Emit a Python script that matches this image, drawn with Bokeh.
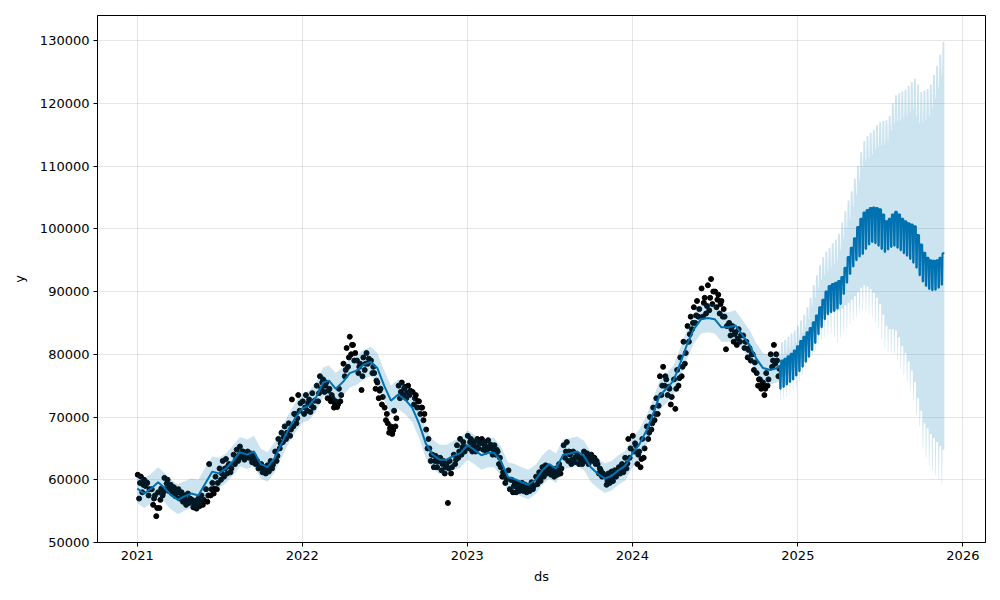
import pandas as pd
from bokeh.plotting import figure
from bokeh.models import FixedTicker, DatetimeTickFormatter, BasicTickFormatter, Range1d
from bokeh.embed import file_html
from bokeh.resources import INLINE

# ---------------- tick labels ----------------
x_tick_years = [2021, 2022, 2023, 2024, 2025, 2026]
y_ticks = [50000, 60000, 70000, 80000, 90000, 100000, 110000, 120000, 130000]

# ---------------- fitted history (thousands) ----------------
# sampled on the 1st and 16th of each month 2021-01 .. 2024-11, last value at 2024-11-22
yhat_hist_k = [
    58.6, 57.8, 58.6, 59.6, 58.8, 57.6, 56.8, 57.4, 57.8, 57.5, 59.5, 61.3,
    61.0, 61.8, 63.0, 64.4, 64.0, 64.5, 62.5, 62.0, 63.5, 65.8, 68.0, 69.8,
    71.4, 71.8, 73.2, 75.5, 75.8, 74.5, 75.6, 77.0, 77.4, 78.3, 78.8, 77.8,
    75.0, 72.6, 73.6, 72.8, 71.5, 69.0, 65.8, 64.0, 63.2, 63.2, 63.8, 64.2,
    65.5, 64.8, 63.9, 64.3, 64.3, 63.0, 60.4, 60.1, 59.6, 59.2, 60.0, 61.5,
    62.5, 61.8, 64.0, 64.2, 64.5, 63.8, 62.0, 61.0, 60.2, 60.6, 61.5, 62.2,
    64.2, 65.6, 67.8, 70.5, 73.4, 74.5, 75.8, 78.6, 81.6, 84.0, 85.6, 85.8,
    85.6, 84.3, 84.3, 84.6, 83.0, 81.5, 79.3, 77.8, 77.5, 77.8, 78.2,
]
yhat_hist_upper_k = [
    61.0, 60.3, 61.0, 62.0, 61.2, 60.0, 59.3, 59.8, 60.2, 60.0, 62.0, 63.7,
    63.5, 64.2, 65.5, 66.8, 66.4, 67.0, 65.0, 64.4, 66.0, 68.2, 70.4, 72.2,
    73.8, 74.2, 75.6, 77.9, 78.2, 77.0, 78.0, 79.4, 79.8, 80.7, 81.2, 80.2,
    77.4, 75.0, 76.0, 75.2, 74.0, 71.4, 68.2, 66.4, 65.6, 65.6, 66.2, 66.6,
    67.9, 67.2, 66.3, 66.7, 66.7, 65.4, 62.8, 62.5, 62.0, 61.6, 62.4, 63.9,
    64.9, 64.2, 66.4, 66.6, 66.9, 66.2, 64.4, 63.4, 62.6, 63.0, 63.9, 64.6,
    66.6, 68.0, 70.2, 72.9, 75.8, 76.9, 78.2, 81.0, 84.0, 86.4, 88.0, 88.2,
    88.0, 86.7, 86.7, 87.0, 85.4, 83.9, 81.7, 80.2, 79.9, 80.2, 80.6,
]
yhat_hist_lower_k = [
    56.3, 55.5, 56.3, 57.3, 56.5, 55.3, 54.5, 55.1, 55.5, 55.2, 57.2, 59.0,
    58.7, 59.5, 60.7, 62.1, 61.7, 62.2, 60.2, 59.7, 61.2, 63.5, 65.7, 67.5,
    69.1, 69.5, 70.9, 73.2, 73.5, 72.2, 73.3, 74.7, 75.1, 76.0, 76.5, 75.5,
    72.7, 70.3, 71.3, 70.5, 69.2, 66.7, 63.5, 61.7, 60.9, 60.9, 61.5, 61.9,
    63.2, 62.5, 61.6, 62.0, 62.0, 60.7, 58.1, 57.8, 57.3, 56.9, 57.7, 59.2,
    60.2, 59.5, 61.7, 61.9, 62.2, 61.5, 59.7, 58.7, 57.9, 58.3, 59.2, 59.9,
    61.9, 63.3, 65.5, 68.2, 71.1, 72.2, 73.5, 76.3, 79.3, 81.7, 83.3, 83.5,
    83.3, 82.0, 82.0, 82.3, 80.7, 79.2, 77.0, 75.5, 75.2, 75.5, 75.9,
]

# ---------------- observations (thousands) ----------------
# obs_hi on days 2, 9, 16, 23; obs_lo on days 5, 12, 19, 26; obs_mid on days 7, 14, 21, 28
obs_hi_k = [
    60.8, 60.5, 60.0, 59.5,  58.5, 57.5, 58.0, 58.6,  60.3, 60.0, 59.2, 58.8,
    58.5, 58.0, 57.5, 57.8,  56.8, 56.6, 57.0, 57.5,  58.5, 62.5, 59.5, 60.5,
    61.8, 63.0, 63.3, 62.5,  64.0, 64.8, 65.3, 64.5,  64.5, 64.2, 63.8, 63.0,
    62.5, 62.0, 62.3, 63.0,  64.5, 66.5, 67.5, 68.5,  69.0, 72.8, 70.5, 73.5,
    72.5, 73.5, 72.8, 73.8,  75.0, 76.5, 76.0, 75.5,  74.5, 73.0, 72.5, 74.5,
    78.5, 81.0, 82.8, 81.5,  79.0, 78.5, 79.5, 80.2,  79.0, 77.0, 75.5, 74.5,
    71.5, 69.0, 68.5, 71.0,  75.0, 75.5, 74.8, 75.0,  74.0, 73.5, 72.5, 71.5,
    68.0, 65.0, 64.0, 63.8,  63.5, 63.0, 62.5, 63.0,  64.0, 65.5, 66.5, 66.0,
    67.0, 66.5, 66.0, 66.5,  66.5, 66.0, 66.3, 65.5,  65.5, 64.5, 62.0, 61.0,
    61.5, 60.0, 59.5, 59.5,  59.5, 59.2, 59.0, 59.6,  60.5, 61.2, 62.0, 62.3,
    62.0, 61.5, 61.8, 62.5,  65.5, 66.0, 64.0, 64.5,  64.0, 63.5, 64.5, 64.2,
    64.0, 63.5, 62.5, 61.5,  60.5, 61.0, 61.3, 61.5,  62.0, 62.5, 63.5, 66.5,
    67.0, 65.5, 64.5, 66.5,  68.5, 70.0, 71.5, 73.0,  76.5, 78.0, 76.0, 74.5,
    76.0, 77.5, 79.5, 82.0,  84.5, 86.0, 87.5, 88.5,  90.5, 89.0, 91.0, 92.0,
    90.0, 89.5, 88.5, 86.0,  85.0, 84.5, 83.5, 84.0,  83.0, 82.0, 81.0, 80.0,
    77.0, 76.0, 75.5, 77.0,  80.0, 81.5, 79.0,
]
obs_lo_k = [
    57.0, 58.0, 59.0, 57.5,  56.0, 54.2, 55.5, 57.5,  58.5, 58.2, 57.8, 57.4,
    57.0, 56.5, 56.0, 56.3,  55.6, 55.4, 55.8, 56.0,  56.5, 57.5, 57.8, 58.5,
    60.0, 60.5, 61.0, 61.2,  62.5, 63.0, 63.6, 63.2,  63.5, 62.8, 62.5, 61.8,
    61.2, 61.0, 61.3, 61.8,  63.0, 65.0, 66.0, 66.5,  67.0, 68.5, 69.0, 71.0,
    70.5, 71.0, 70.8, 71.5,  72.5, 74.5, 74.0, 73.0,  72.5, 71.5, 71.6, 72.5,
    76.5, 78.0, 80.0, 79.0,  77.0, 74.3, 77.5, 78.5,  77.0, 74.5, 73.0, 72.0,
    69.5, 67.5, 67.3, 68.5,  73.0, 73.5, 73.0, 73.5,  72.0, 71.5, 70.5, 69.5,
    65.0, 63.0, 62.0, 62.0,  61.5, 61.0, 56.3, 61.0,  62.5, 63.5, 64.0, 64.5,
    65.0, 64.5, 64.5, 65.0,  64.8, 64.5, 65.0, 64.0,  64.0, 62.5, 60.5, 59.5,
    58.5, 58.0, 58.0, 58.2,  58.2, 58.0, 58.2, 58.5,  59.3, 59.8, 60.5, 61.0,
    60.8, 60.5, 60.8, 61.0,  63.5, 63.0, 62.5, 62.8,  62.5, 62.5, 63.0, 62.5,
    63.0, 62.5, 61.0, 60.5,  59.2, 59.5, 59.8, 60.5,  61.0, 61.2, 61.8, 63.5,
    64.5, 62.5, 62.0, 63.5,  66.5, 68.0, 69.5, 70.5,  73.5, 75.0, 73.5, 72.0,
    71.3, 75.0, 76.5, 78.5,  82.0, 84.0, 85.0, 86.0,  86.0, 86.5, 87.0, 88.0,
    87.5, 86.5, 86.0, 80.8,  83.0, 82.0, 81.5, 82.0,  81.0, 79.5, 79.0, 77.5,
    75.0, 74.5, 73.5, 75.0,  78.0, 78.5, 76.5,
]
obs_mid_k = [
    59.5, 59.2, 59.6, 58.5,  57.0, 55.5, 56.8, 58.0,  59.4, 59.0, 58.5, 58.0,
    57.8, 57.2, 56.7, 57.0,  56.2, 56.0, 56.4, 56.8,  57.5, 58.5, 58.6, 59.5,
    61.0, 61.8, 62.2, 61.8,  63.2, 63.9, 64.5, 63.8,  64.0, 63.5, 63.1, 62.4,
    61.8, 61.5, 61.8, 62.4,  63.8, 65.8, 66.8, 67.5,  68.0, 70.5, 69.8, 72.2,
    71.5, 72.2, 71.8, 72.6,  73.8, 75.5, 75.0, 74.2,  73.5, 72.2, 72.0, 73.5,
    77.5, 79.5, 81.5, 80.2,  78.0, 76.5, 78.5, 79.3,  78.0, 75.8, 74.2, 73.2,
    70.5, 68.2, 67.9, 69.8,  74.0, 74.5, 73.9, 74.2,  73.0, 72.5, 71.5, 70.5,
    66.5, 64.0, 63.0, 62.9,  62.5, 62.0, 61.8, 62.0,  63.2, 64.5, 65.2, 65.2,
    66.0, 65.5, 65.2, 65.8,  65.6, 65.2, 65.6, 64.8,  64.8, 63.5, 61.2, 60.2,
    60.0, 59.0, 58.8, 58.8,  58.8, 58.6, 58.6, 59.0,  59.9, 60.5, 61.2, 61.6,
    61.4, 61.0, 61.3, 61.8,  64.5, 64.5, 63.2, 63.6,  63.2, 63.0, 63.7, 63.3,
    63.5, 63.0, 61.8, 61.0,  59.8, 60.2, 60.5, 61.0,  61.5, 61.8, 62.6, 65.0,
    65.8, 64.0, 63.3, 65.0,  67.5, 69.0, 70.5, 71.8,  75.0, 76.5, 74.8, 73.2,
    74.5, 76.2, 78.0, 80.2,  83.2, 85.0, 86.2, 87.2,  88.2, 87.7, 89.0, 90.0,
    88.7, 88.0, 87.2, 84.5,  84.0, 83.2, 82.5, 83.0,  82.0, 80.7, 80.0, 78.7,
    76.0, 75.2, 74.5, 76.0,  79.0, 80.0, 77.7,
]

# ---------------- forecast, weekly readings (thousands) ----------------
# weeks starting Saturday 2024-11-23; *_top = weekday level, *_dip = weekend level
fc_top_k = [79.0, 79.3, 79.7, 80.1, 80.6, 81.3, 82.1, 82.8, 83.5, 84.2, 85.1, 86.2, 87.5,
            88.7, 90.0, 90.9, 91.2, 91.4, 91.7, 92.3, 93.8, 95.5, 97.0, 98.5, 100.3, 101.6,
            102.6, 103.0, 103.3, 103.4, 103.3, 103.1, 102.3, 101.2, 101.6, 102.3, 102.7, 102.3,
            101.6, 101.2, 100.9, 100.7, 100.4, 99.0, 97.5, 96.2, 95.4, 95.0, 94.9, 95.0, 95.4, 96.1]
fc_dip_k = [74.5, 74.8, 75.2, 75.6, 76.0, 76.6, 77.3, 78.0, 78.8, 79.6, 80.7, 81.8, 83.2,
            84.3, 85.6, 86.4, 86.7, 86.9, 87.3, 88.0, 89.6, 91.4, 92.8, 94.0, 95.0, 95.6,
            96.0, 96.8, 97.5, 97.9, 97.7, 97.3, 96.8, 96.3, 96.7, 97.1, 97.3, 97.0,
            96.6, 96.1, 95.7, 95.2, 94.6, 93.8, 92.6, 91.6, 90.9, 90.4, 90.2, 90.3, 90.6, 91.1]
up_top_k = [81.9, 82.3, 82.8, 83.3, 83.8, 84.6, 85.4, 86.3, 87.5, 89.0, 91.0, 92.6, 94.2,
            95.5, 96.4, 97.0, 97.7, 98.3, 99.2, 101.0, 102.8, 104.5, 106.0, 108.0, 110.0, 112.2,
            114.0, 114.8, 115.3, 115.8, 116.5, 117.0, 117.2, 117.3, 118.0, 120.0, 121.3, 121.6,
            121.9, 122.2, 122.8, 123.4, 123.9, 123.0, 121.8, 122.0, 122.3, 123.0, 124.5, 126.0,
            127.8, 129.8]
up_dip_k = [79.8, 80.0, 80.4, 80.8, 81.2, 81.8, 82.6, 83.3, 84.3, 85.6, 87.5, 89.0, 90.6,
            91.8, 92.6, 93.2, 93.8, 94.3, 95.0, 96.6, 98.4, 100.0, 101.5, 103.5, 105.4, 107.8,
            109.8, 110.8, 111.3, 111.8, 112.6, 113.0, 113.2, 113.4, 114.0, 115.6, 116.8, 117.2,
            117.3, 117.6, 118.0, 118.6, 119.0, 118.0, 116.8, 117.0, 117.3, 118.0, 119.3, 120.8,
            122.5, 124.5]
lo_top_k = [76.3, 76.6, 76.9, 77.3, 77.8, 78.5, 79.5, 80.5, 81.4, 82.6, 83.6, 84.5, 85.5,
            86.2, 86.6, 86.8, 87.0, 87.0, 87.0, 87.3, 87.8, 88.2, 88.7, 89.3, 89.9, 90.6,
            91.0, 90.8, 90.4, 89.8, 89.0, 88.0, 86.3, 84.5, 84.0, 84.0, 83.8, 82.7,
            81.3, 80.2, 78.9, 77.4, 75.6, 73.0, 71.0, 69.0, 68.2, 67.3, 66.6, 66.0, 65.4, 64.8]
lo_dip_k = [72.6, 72.9, 73.2, 73.6, 74.1, 74.8, 75.7, 76.7, 77.6, 78.8, 79.8, 80.6, 81.5,
            82.2, 82.7, 83.0, 83.3, 82.8, 81.8, 82.6, 83.6, 84.2, 84.8, 85.3, 85.9, 86.6,
            87.0, 86.9, 86.5, 85.9, 85.0, 84.1, 82.4, 80.8, 80.3, 80.3, 80.1, 79.0,
            77.6, 76.6, 75.5, 74.1, 72.6, 70.4, 68.5, 65.0, 63.5, 62.2, 61.4, 60.7, 60.1, 59.2]

# ---------------- dates ----------------
months = [(y, m) for y in range(2021, 2025) for m in range(1, 13)]
hist_months = months[:47]  # 2021-01 .. 2024-11
hist_dates = [pd.Timestamp(y, m, d) for (y, m) in hist_months for d in (1, 16)]
hist_dates.append(pd.Timestamp(2024, 11, 22))


def obs_dates(days, n):
    out = [pd.Timestamp(y, m, d) for (y, m) in hist_months for d in days]
    return out[:n]


obs_x = (obs_dates((2, 9, 16, 23), len(obs_hi_k))
         + obs_dates((5, 12, 19, 26), len(obs_lo_k))
         + obs_dates((7, 14, 21, 28), len(obs_mid_k)))
obs_y = [v * 1000 for v in obs_hi_k + obs_lo_k + obs_mid_k]

fc_x, fc_y, fc_up, fc_lo = [], [], [], []
week0 = pd.Timestamp(2024, 11, 23)
for i in range(len(fc_top_k)):
    sat = week0 + pd.Timedelta(days=7 * i)
    for off, kind in ((0, "dip"), (1, "dip"), (2, "top"), (6, "top")):
        fc_x.append(sat + pd.Timedelta(days=off))
        if kind == "dip":
            fc_y.append(fc_dip_k[i]); fc_up.append(up_dip_k[i]); fc_lo.append(lo_dip_k[i])
        else:
            fc_y.append(fc_top_k[i]); fc_up.append(up_top_k[i]); fc_lo.append(lo_top_k[i])

line_x = hist_dates + fc_x
line_y = [v * 1000 for v in yhat_hist_k + fc_y]
band_up = [v * 1000 for v in yhat_hist_upper_k + fc_up]
band_lo = [v * 1000 for v in yhat_hist_lower_k + fc_lo]

# ---------------- figure ----------------
x_start = pd.Timestamp(2020, 10, 5)
x_end = pd.Timestamp(2026, 2, 20)

p = figure(width=1000, height=600, x_axis_type="datetime",
           output_backend="svg", toolbar_location=None,
           x_range=Range1d(x_start, x_end), y_range=Range1d(50000, 134000),
           min_border_left=97, min_border_right=15, min_border_top=15, min_border_bottom=58,
           background_fill_color="white", border_fill_color="white")

p.scatter(obs_x, obs_y, size=5, color="black")
p.line(line_x, line_y, color="#0072B2", line_width=2)
p.varea(x=line_x, y1=band_lo, y2=band_up, fill_color="#0072B2", fill_alpha=0.2)

year_ticks = [pd.Timestamp(y, 1, 1).value // 10**6 for y in x_tick_years]
p.xaxis.ticker = FixedTicker(ticks=year_ticks)
p.xaxis.formatter = DatetimeTickFormatter(years="%Y", months="%Y", days="%Y", hours="%Y",
                                          minutes="%Y", seconds="%Y", milliseconds="%Y",
                                          microseconds="%Y", hourmin="%Y", minsec="%Y")
p.yaxis.ticker = FixedTicker(ticks=y_ticks)
p.yaxis.formatter = BasicTickFormatter(use_scientific=False)

p.xaxis.axis_label = "ds"
p.yaxis.axis_label = "y"
for ax in (p.xaxis, p.yaxis):
    ax.major_label_text_font = "DejaVu Sans"
    ax.major_label_text_font_size = "13px"
    ax.major_label_text_color = "black"
    ax.axis_label_text_font = "DejaVu Sans"
    ax.axis_label_text_font_size = "13px"
    ax.axis_label_text_font_style = "normal"
    ax.axis_label_text_color = "black"
    ax.minor_tick_line_color = None
    ax.major_tick_out = 4
    ax.major_tick_in = 0
    ax.major_tick_line_color = "black"
    ax.axis_line_color = "black"
    ax.major_label_standoff = 4
p.xaxis.axis_label_standoff = 6
p.yaxis.axis_label_standoff = 10

p.xgrid.grid_line_color = "gray"
p.xgrid.grid_line_alpha = 0.2
p.ygrid.grid_line_color = "gray"
p.ygrid.grid_line_alpha = 0.2
p.outline_line_color = "black"
p.outline_line_alpha = 1.0

open("out.html", "w").write(file_html(p, INLINE))
